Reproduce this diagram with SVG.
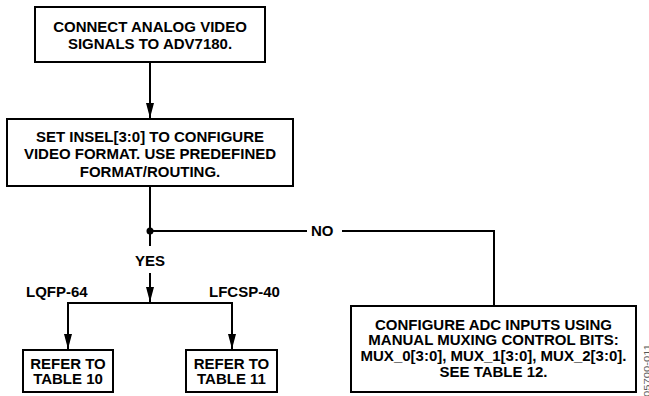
<svg xmlns="http://www.w3.org/2000/svg" width="649" height="396" viewBox="0 0 649 396">
<defs>
<style>
.box{fill:#fff;stroke:#000;stroke-width:2}
.t{font-family:"Liberation Sans",Arial,sans-serif;font-weight:bold;font-size:15px;fill:#000;text-anchor:middle}
.l{font-family:"Liberation Sans",Arial,sans-serif;font-weight:bold;font-size:15px;fill:#000}
.c{fill:none;stroke:#000;stroke-width:2}
</style>
<marker id="ah" markerUnits="userSpaceOnUse" markerWidth="10" markerHeight="16" viewBox="0 0 10 16" refX="10" refY="8" orient="auto">
<path d="M0,4.5 L10,8 L0,11.5 Z" fill="#000" transform="rotate(0)"/>
</marker>
<marker id="ah2" markerUnits="userSpaceOnUse" markerWidth="16" markerHeight="10" viewBox="0 0 16 10" refX="15" refY="5" orient="auto">
<path d="M0,1 L15,5 L0,9 Z" fill="#000"/>
</marker>
</defs>
<g id="connectors">
<line class="c" x1="150" y1="62" x2="150" y2="118" marker-end="url(#ah2)"/>
<line class="c" x1="150" y1="186" x2="150" y2="246"/>
<circle cx="150" cy="231" r="3.5" fill="#000"/>
<line class="c" x1="150" y1="231" x2="307" y2="231"/>
<polyline class="c" points="342,231 494,231 494,306"/>
<line class="c" x1="150" y1="273" x2="150" y2="302" marker-end="url(#ah2)"/>
<polyline class="c" points="68,349 68,303 232,303 232,349"/>
<line class="c" x1="68" y1="330" x2="68" y2="349" marker-end="url(#ah2)"/>
<line class="c" x1="232" y1="330" x2="232" y2="349" marker-end="url(#ah2)"/>
<text class="t" x="150" y="266">YES</text>
<text class="l" x="311" y="236">NO</text>
<text class="l" x="26" y="297">LQFP-64</text>
<text class="l" x="209" y="297">LFCSP-40</text>
</g>
<g id="n1">
<rect class="box" x="35" y="7" width="230" height="55"/>
<text class="t" x="150" y="32.3">CONNECT ANALOG VIDEO</text>
<text class="t" x="150" y="49">SIGNALS TO ADV7180.</text>
</g>
<g id="n2">
<rect class="box" x="7" y="119" width="286" height="67"/>
<text class="t" x="150" y="141.7">SET INSEL[3:0] TO CONFIGURE</text>
<text class="t" x="150" y="159">VIDEO FORMAT. USE PREDEFINED</text>
<text class="t" x="150" y="176.7">FORMAT/ROUTING.</text>
</g>
<g id="n3">
<rect class="box" x="23" y="350" width="90" height="42"/>
<text class="t" x="68" y="369">REFER TO</text>
<text class="t" x="68" y="384">TABLE 10</text>
</g>
<g id="n4">
<rect class="box" x="186" y="350" width="91" height="42"/>
<text class="t" x="231.5" y="369">REFER TO</text>
<text class="t" x="231.5" y="384">TABLE 11</text>
</g>
<g id="n5">
<rect class="box" x="351" y="306" width="285" height="86"/>
<text class="t" x="493.5" y="329.5">CONFIGURE ADC INPUTS USING</text>
<text class="t" x="493.5" y="345.3">MANUAL MUXING CONTROL BITS:</text>
<text class="t" x="493.5" y="361.3">MUX_0[3:0], MUX_1[3:0], MUX_2[3:0].</text>
<text class="t" x="493.5" y="377">SEE TABLE 12.</text>
</g>
<text transform="translate(650,397) rotate(-90)" font-family="'Liberation Sans',Arial,sans-serif" font-size="9" fill="#555" textLength="53" lengthAdjust="spacingAndGlyphs">05700-011</text>
</svg>
